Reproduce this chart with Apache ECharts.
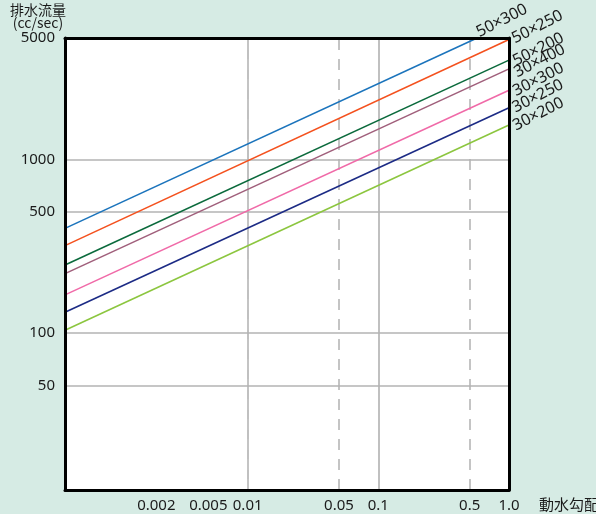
<!DOCTYPE html>
<html>
<head>
<meta charset="utf-8">
<script src="https://cdn.jsdelivr.net/npm/echarts@6/dist/echarts.min.js"></script>
<style>
html,body{margin:0;padding:0;background:#d6ebe4;}
#chart{width:596px;height:514px;}
</style>
</head>
<body>
<div id="chart"></div>
<script>
// ---- data ----
const seriesNames = ['50×300', '50×250', '50×200', '30×400', '30×300', '30×250', '30×200'];
const slopeStart = [0.0004, 0.0004, 0.0004, 0.0004, 0.0004, 0.0004, 0.0004];
const slopeEnd   = [0.57, 1.0, 1.0, 1.0, 1.0, 1.0, 1.0];
const flowStart  = [401, 319, 247, 220, 166, 132, 104];
const flowEnd    = [5000, 4900, 3730, 3320, 2500, 1985, 1580];

const xTicks = [0.002, 0.005, 0.01, 0.05, 0.1, 0.5, 1.0];
const xTickLabels = ['0.002', '0.005', '0.01', '0.05', '0.1', '0.5', '1.0'];
const xSolidGrid = [0.002, 0.01, 0.1];
const xDashedGrid = [0.005, 0.05, 0.5];
const yTicks = [50, 100, 500, 1000, 5000];
const yGrid = [50, 100, 500, 1000];

// ---- styles ----
const palette = ['#1b74bc', '#f4511e', '#0b6a3c', '#a05f7b', '#f06aa8', '#1c2b85', '#8cc63f'];
const labelShift = [[-1, -6], [0, 0], [0, 2], [0, 5], [0, 2], [0, 1], [0, 2]];
const FONT = '"Noto Sans", "Noto Sans CJK JP", sans-serif';
const CJK = '"Noto Sans CJK JP", "Noto Sans", sans-serif';
const X_MIN = 0.0004, X_MAX = 1.0, Y_MIN = 12.5, Y_MAX = 5000;

function xLabel(v) {
  for (let i = 0; i < xTicks.length; i++) {
    if (Math.abs(Math.log10(v) - Math.log10(xTicks[i])) < 1e-6) return xTickLabels[i];
  }
  return '';
}

const chart = echarts.init(document.getElementById('chart'), null, {renderer: 'canvas'});

const lineSeries = seriesNames.map((n, i) => ({
  type: 'line',
  name: n,
  data: [
    [slopeStart[i], flowStart[i]],
    {value: [slopeEnd[i], flowEnd[i]], label: {show: true}}
  ],
  symbol: 'circle',
  symbolSize: 0,
  showSymbol: true,
  silent: true,
  z: 3,
  lineStyle: {color: palette[i], width: 1.6},
  itemStyle: {color: palette[i]},
  label: {
    show: false,
    position: 'right',
    distance: 4,
    rotate: 27,
    offset: labelShift[i],
    formatter: n,
    fontFamily: FONT,
    fontSize: 16,
    color: '#1a1a1a'
  }
}));

const gridSeries = {
  type: 'line',
  data: [],
  silent: true,
  markLine: {
    silent: true,
    symbol: ['none', 'none'],
    z: 1,
    label: {show: false},
    animation: false,
    data: [
      ...xSolidGrid.map(v => ({xAxis: v, lineStyle: {color: '#ababab', width: 1.5, type: 'solid'}})),
      ...xDashedGrid.map(v => ({xAxis: v, lineStyle: {color: '#c4c4c4', width: 2, type: [11, 9]}})),
      ...yGrid.map(v => ({yAxis: v, lineStyle: {color: '#b3b3b3', width: 1.5, type: 'solid'}}))
    ]
  }
};

const option = {
  backgroundColor: '#d6ebe4',
  animation: false,
  textStyle: {fontFamily: FONT},
  grid: {left: 65, right: 87, top: 38, bottom: 24, outerBoundsMode: 'none', containLabel: false,
         show: true, backgroundColor: '#ffffff', borderWidth: 0},
  xAxis: [
    {
      type: 'log', logBase: 10, min: X_MIN, max: X_MAX, position: 'bottom', z: 10,
      axisLine: {show: true, lineStyle: {color: '#000', width: 3}},
      axisTick: {show: false},
      splitLine: {show: false},
      minorTick: {show: false},
      axisLabel: {customValues: xTicks, formatter: xLabel, fontSize: 15, color: '#1a1a1a', margin: 8, fontFamily: FONT},
      name: '動水勾配', nameLocation: 'end', nameGap: 30, nameMoveOverlap: false,
      nameTextStyle: {fontSize: 15, color: '#1a1a1a', verticalAlign: 'top', padding: [7, 0, 0, 0], fontFamily: CJK}
    },
    {
      type: 'log', logBase: 10, min: X_MIN, max: X_MAX, position: 'top', z: 10,
      axisLine: {show: true, lineStyle: {color: '#000', width: 3}},
      axisTick: {show: false}, axisLabel: {show: false}, splitLine: {show: false}
    }
  ],
  yAxis: [
    {
      type: 'log', logBase: 10, min: Y_MIN, max: Y_MAX, position: 'left', z: 10,
      axisLine: {show: true, lineStyle: {color: '#000', width: 3}},
      axisTick: {show: false},
      splitLine: {show: false},
      minorTick: {show: false},
      axisLabel: {customValues: yTicks, formatter: v => String(Math.round(v)), fontSize: 15, color: '#1a1a1a', margin: 10, fontFamily: FONT},
      name: '排水流量\n(cc/sec)', nameLocation: 'end', nameGap: 35, nameMoveOverlap: false,
      nameTextStyle: {fontSize: 14, lineHeight: 13, color: '#1a1a1a', align: 'center', verticalAlign: 'top',
                      padding: [0, 54, 0, 0], fontFamily: CJK}
    },
    {
      type: 'log', logBase: 10, min: Y_MIN, max: Y_MAX, position: 'right', z: 10,
      axisLine: {show: true, lineStyle: {color: '#000', width: 3}},
      axisTick: {show: false}, axisLabel: {show: false}, splitLine: {show: false}
    }
  ],
  series: [gridSeries, ...lineSeries]
};

chart.setOption(option);
</script>
</body>
</html>
